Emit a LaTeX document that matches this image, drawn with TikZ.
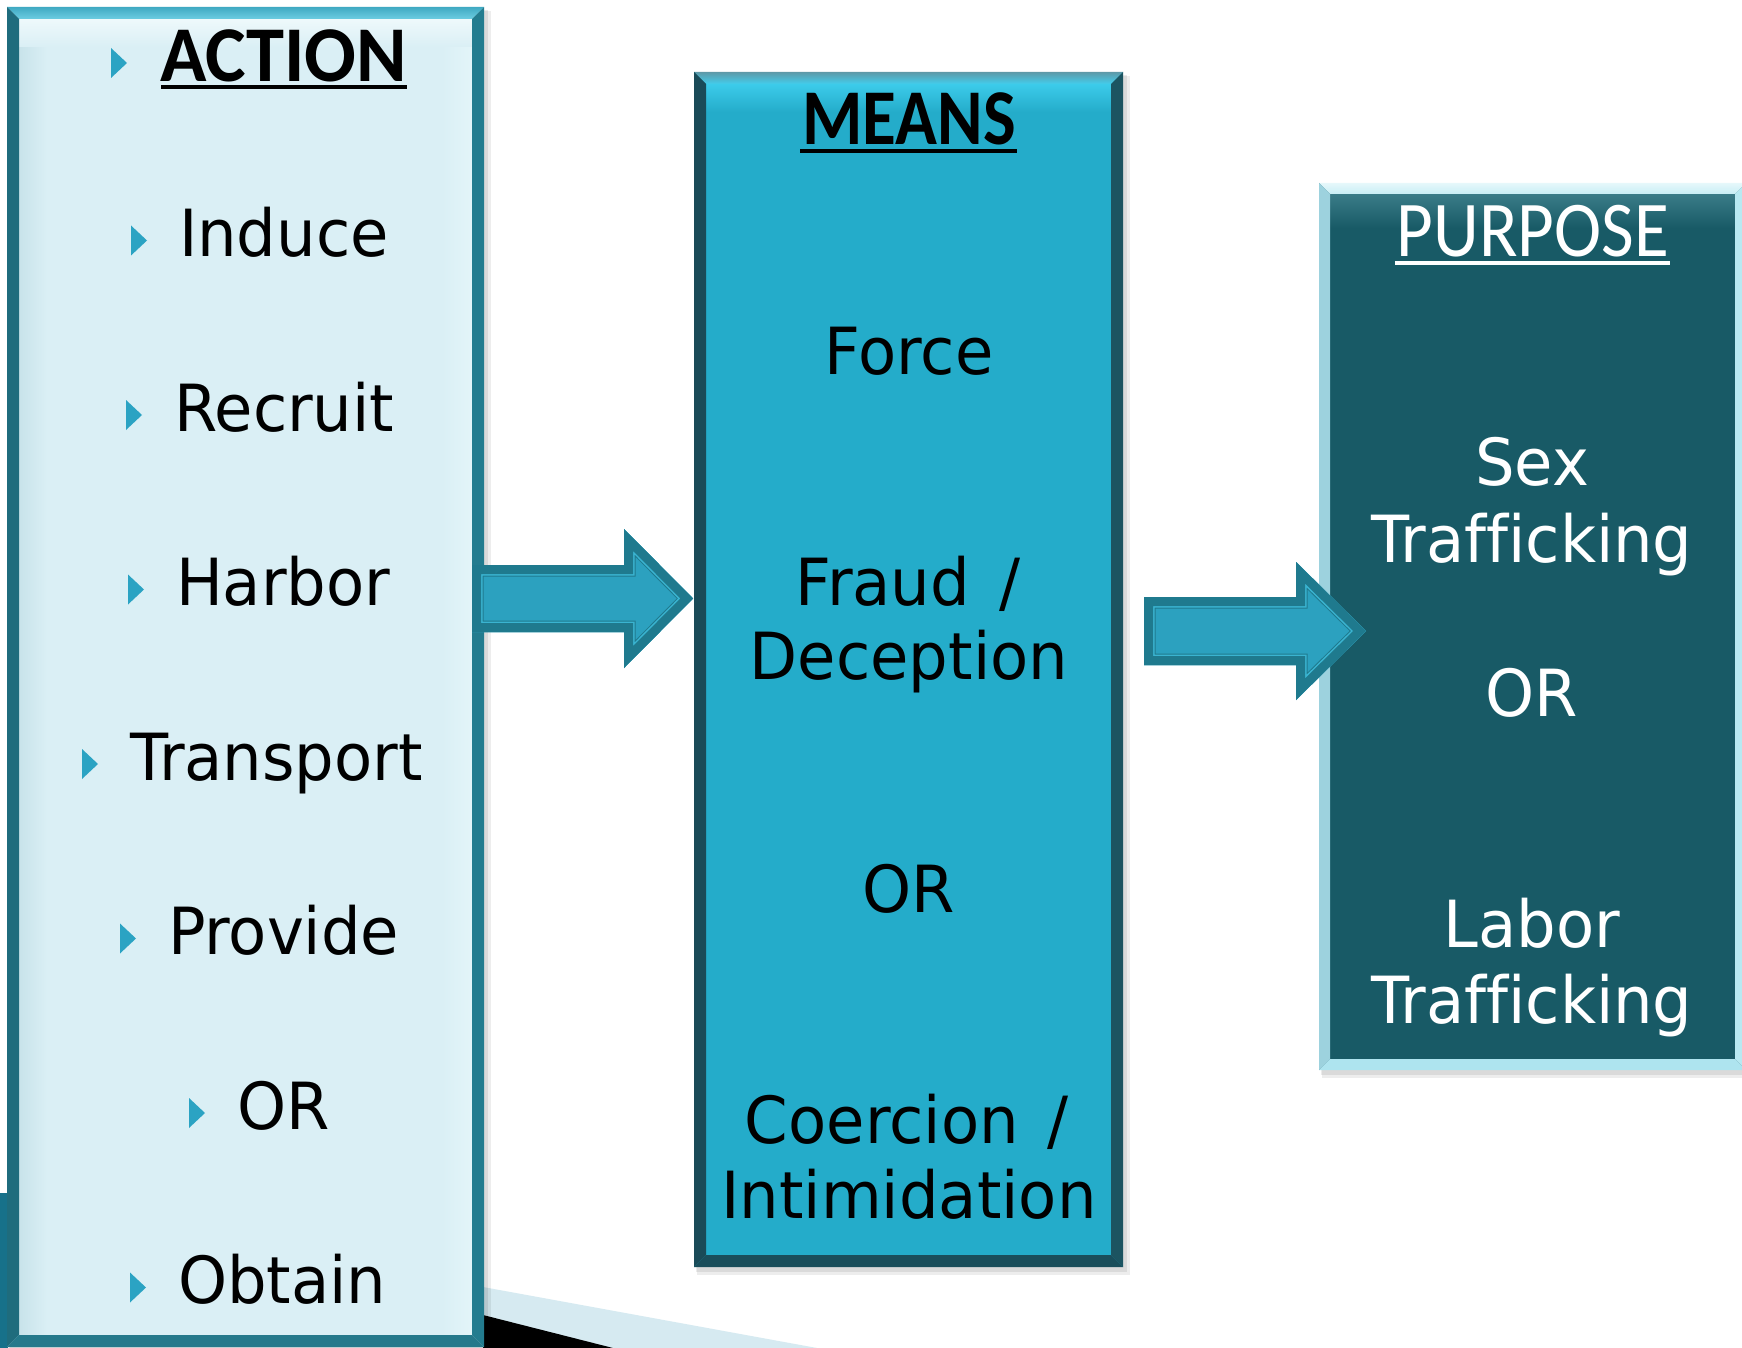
\documentclass[tikz,border=0pt]{standalone}
\usepackage{fontspec}
\usetikzlibrary{calc}
\newfontfamily\bodyf[FakeStretch=0.96,Ligatures=NoCommon]{DejaVu Sans}
\newfontfamily\headA[FakeStretch=0.97]{Carlito}
\newfontfamily\headM[FakeStretch=0.875]{Carlito}
\newfontfamily\headP[FakeStretch=0.9]{Carlito}
\definecolor{bulletc}{HTML}{2BA3C3}
\definecolor{actfill}{HTML}{DAEFF5}
\definecolor{actleft}{HTML}{C8E3EA}
\definecolor{actright}{HTML}{E3F5F9}
\definecolor{acttop}{HTML}{EEF9FB}
\definecolor{meanfill}{HTML}{24ACCA}
\definecolor{meantop}{HTML}{3CCBEA}
\definecolor{purfill}{HTML}{185A66}
\definecolor{purtop}{HTML}{3A7C88}
\definecolor{arrdark}{HTML}{1F7A8E}
\definecolor{arrfill}{HTML}{2CA1BF}
\definecolor{arrlight}{HTML}{3AB4D1}
\definecolor{decolight}{HTML}{D6EAF1}
\definecolor{decoteal}{HTML}{17718A}
% bevel colours
\definecolor{aBT}{HTML}{3FA9C2}\definecolor{aBB}{HTML}{6CCDE2}
\definecolor{aBL}{HTML}{1F6C7D}\definecolor{aBR}{HTML}{237C8F}\definecolor{aBD}{HTML}{25798B}
\definecolor{mBT}{HTML}{5E99A8}\definecolor{mBB}{HTML}{42CDEC}
\definecolor{mBL}{HTML}{1A4B58}\definecolor{mBR}{HTML}{1C5461}\definecolor{mBD}{HTML}{1A4E5B}
\definecolor{pBT}{HTML}{E6F8FB}\definecolor{pBB}{HTML}{C8EEF5}
\definecolor{pBL}{HTML}{9DD2DE}\definecolor{pBR}{HTML}{B8E9F2}\definecolor{pBD}{HTML}{AEE4EF}

\newcommand\bevelbox[7]{%
  \shade[top color=#3,bottom color=#4] (#1.north west) -- (#1.north east) -- ($(#1.north east)+(-#2,#2)$) -- ($(#1.north west)+(#2,#2)$) -- cycle;
  \fill[#5] (#1.north west) -- ($(#1.north west)+(#2,#2)$) -- ($(#1.south west)+(#2,-#2)$) -- (#1.south west) -- cycle;
  \fill[#6] (#1.north east) -- ($(#1.north east)+(-#2,#2)$) -- ($(#1.south east)+(-#2,-#2)$) -- (#1.south east) -- cycle;
  \fill[#7] (#1.south west) -- ($(#1.south west)+(#2,-#2)$) -- ($(#1.south east)+(-#2,-#2)$) -- (#1.south east) -- cycle;
}
\newcommand\boxshadow[1]{%
  \fill[black,opacity=0.07] ($(#1.north west)+(3,4)$) rectangle ($(#1.south east)+(7,8)$);
  \fill[black,opacity=0.08] ($(#1.north west)+(2,3)$) rectangle ($(#1.south east)+(4,5)$);
}
% #1 x0, #2 head base x, #3 tip x, #4 shaft top, #5 shaft bottom, #6 head top, #7 head bottom, #8 mid y
\newcommand\blockarrow[8]{%
  \begin{scope}
    \clip (#1,#4) -- (#2,#4) -- (#2,#6) -- (#3,#8) -- (#2,#7) -- (#2,#5) -- (#1,#5) -- cycle;
    \fill[arrfill] (#1,#6) rectangle (#3,#7);
    \draw[arrdark,line width=23pt,line join=miter] (#1,#4) -- (#2,#4) -- (#2,#6) -- (#3,#8) -- (#2,#7) -- (#2,#5) -- (#1,#5) -- cycle;
    \draw[arrlight,line width=21pt,line join=miter] (#1,#4) -- (#2,#4) -- (#2,#6) -- (#3,#8) -- (#2,#7) -- (#2,#5) -- (#1,#5) -- cycle;
    \draw[arrdark,line width=18pt,line join=miter] (#1,#4) -- (#2,#4) -- (#2,#6) -- (#3,#8) -- (#2,#7) -- (#2,#5) -- (#1,#5) -- cycle;
  \end{scope}
}
% bullet line in ACTION box: #1 name, #2 bullet x, #3 baseline y, #4 text
\newcommand\actline[4]{%
  \node[bodytext,anchor=base west] (#1) at (#2+48,#3) {#4};
  \fill[bulletc] ($(#1.base west)+(-48,-31)$) -- ($(#1.base west)+(-32,-16)$) -- ($(#1.base west)+(-48,-1)$) -- cycle;
}

\begin{document}
\begin{tikzpicture}[x=1pt,y=-1pt,
  boxn/.style={rectangle,inner sep=0pt,outer sep=0pt,anchor=north west,draw=none},
  bodytext/.style={inner sep=0pt,outer sep=0pt,font=\bodyf\fontsize{65}{78}\selectfont},
  headtext/.style={inner sep=0pt,outer sep=0pt},
  uline/.style={line width=4pt}]
\useasboundingbox (0,0) rectangle (1742,1348);
\fill[white] (0,0) rectangle (1742,1348);

% background decoration at the bottom left
\fill[decoteal] (0,1193) rectangle (8,1348);
\fill[decolight] (483,1287) -- (817,1348) -- (483,1348) -- cycle;
\fill[black] (483,1315) -- (613,1348) -- (483,1348) -- cycle;

% ---------- boxes ----------
\path (7,7) node[boxn,minimum width=477pt,minimum height=1340pt] (action) {};
\path (694,72) node[boxn,minimum width=429pt,minimum height=1195pt] (means) {};
\path (1319,183) node[boxn,minimum width=427pt,minimum height=887pt] (purpose) {};

\boxshadow{action}
\boxshadow{means}
\boxshadow{purpose}

% ACTION box
\fill[actfill] (action.north west) rectangle (action.south east);
\shade[left color=actleft,right color=actfill] ($(action.north west)+(12,12)$) rectangle ($(action.south west)+(40,-12)$);
\shade[left color=actfill,right color=actright] ($(action.north east)+(-42,12)$) rectangle ($(action.south east)+(-12,-12)$);
\shade[top color=acttop,bottom color=actfill] ($(action.north west)+(12,12)$) rectangle ($(action.north east)+(-12,40)$);
\bevelbox{action}{12}{aBT}{aBB}{aBL}{aBR}{aBD}

% MEANS box
\fill[meanfill] (means.north west) rectangle (means.south east);
\shade[top color=meantop,bottom color=meanfill] ($(means.north west)+(12,12)$) rectangle ($(means.north east)+(-12,40)$);
\bevelbox{means}{12}{mBT}{mBB}{mBL}{mBR}{mBD}

% PURPOSE box
\fill[purfill] (purpose.north west) rectangle (purpose.south east);
\shade[top color=purtop,bottom color=purfill] ($(purpose.north west)+(11,11)$) rectangle ($(purpose.north east)+(-11,45)$);
\bevelbox{purpose}{11}{pBT}{pBB}{pBL}{pBR}{pBD}

% ---------- ACTION texts ----------
\node[headtext,anchor=base west,font=\headA\bfseries\fontsize{79}{90}\selectfont] (tAction) at (160,82) {ACTION};
\draw[uline] ($(tAction.base west)+(1,5)$) -- ($(tAction.base east)+(0,5)$);
\fill[bulletc] ($(tAction.base west)+(-49,-34)$) -- ($(tAction.base west)+(-33,-19)$) -- ($(tAction.base west)+(-49,-4)$) -- cycle;

\actline{tInduce}{131}{256.5}{Induce}
\actline{tRecruit}{126}{431}{Recruit}
\actline{tHarbor}{128}{605.5}{Harbor}
\actline{tTransport}{82}{780}{Transport}
\actline{tProvide}{120}{954.5}{Provide}
\actline{tOrA}{189}{1129}{OR}
\actline{tObtain}{130}{1303.5}{Obtain}

% ---------- MEANS texts ----------
\node[headtext,anchor=base,font=\headM\bfseries\fontsize{79}{90}\selectfont] (tMeans) at (909,145) {MEANS};
\draw[uline] ($(tMeans.base west)+(-2,6)$) -- ($(tMeans.base east)+(1,6)$);
\node[bodytext,anchor=base] (tForce) at (909,374) {Force};
\node[bodytext,anchor=base] (tFraud) at (908,605) {Fraud\hspace{0.45em}/};
\node[bodytext,anchor=base] (tDecep) at (909,679) {Deception};
\node[bodytext,anchor=base] (tOrM) at (909,912) {OR};
\node[bodytext,anchor=base] (tCoer) at (907,1143) {Coercion\hspace{0.45em}/};
\node[bodytext,anchor=base] (tIntim) at (909,1218) {Intimidation};

% ---------- PURPOSE texts ----------
\node[headtext,anchor=base,text=white,font=\headP\fontsize{79}{90}\selectfont] (tPurpose) at (1533,257) {PURPOSE};
\draw[uline,white] ($(tPurpose.base west)+(-2,6)$) -- ($(tPurpose.base east)+(1,6)$);
\node[bodytext,anchor=base,text=white] (tSex) at (1532,485) {Sex};
\node[bodytext,anchor=base,text=white] (tSexT) at (1532,562) {Trafficking};
\node[bodytext,anchor=base,text=white] (tOrP) at (1532,716) {OR};
\node[bodytext,anchor=base,text=white] (tLabor) at (1532,947) {Labor};
\node[bodytext,anchor=base,text=white] (tLaborT) at (1532,1023) {Trafficking};

% ---------- block arrows ----------
\blockarrow{472}{624}{693}{565}{632}{529}{668}{598.5}
\blockarrow{1144}{1296}{1366}{597}{665}{562}{700}{631}
\end{tikzpicture}
\end{document}
